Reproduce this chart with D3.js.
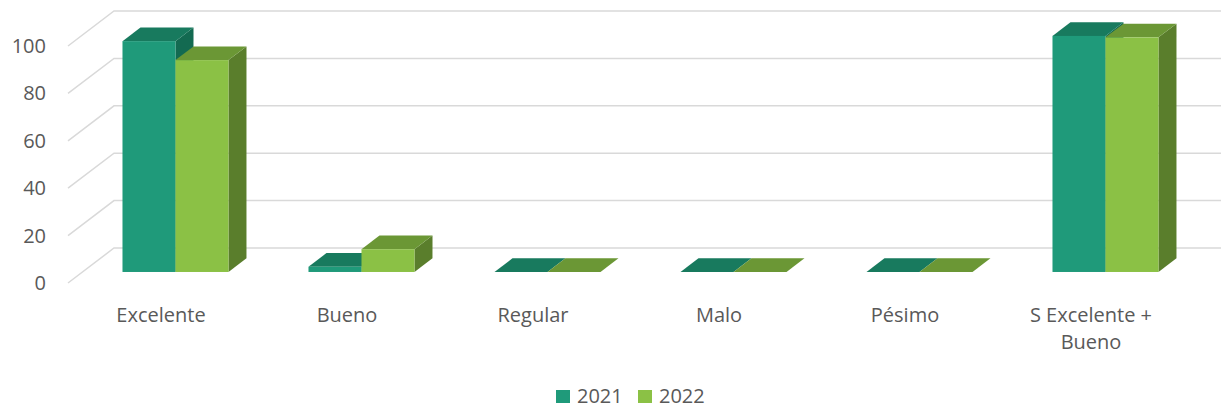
<!DOCTYPE html>
<html>
<head>
<meta charset="utf-8">
<script src="https://cdn.jsdelivr.net/npm/d3@7"></script>
<style>
  html, body { margin: 0; padding: 0; background: #fff; }
  svg { display: block; }
  text { font-family: "Open Sans", sans-serif; fill: #595959; }
</style>
</head>
<body>
<div id="chart"></div>
<script>
// Survey results per rating, two years
const categories = ["Excelente", "Bueno", "Regular", "Malo", "Pésimo", "S Excelente + Bueno"];
const series = ["2021", "2022"];
const values2021 = [97.4, 2.2, 0, 0, 0, 99.6];
const values2022 = [89.4, 9.6, 0, 0, 0, 99.0];
const yTicks = [0, 20, 40, 60, 80, 100];

const W = 1221, H = 409;

// Oblique 3D frame: floor front edge, total depth of the floor, bar depth slot
const floorY = 283;
const plotLeft = 68, plotRight = 1184;
const depthX = 46, depthY = 35;
const barZ0 = 0.315, barZ1 = 0.706;
const groupWidth = 106;

const colors = {
  "2021": { front: "#1f9a7a", top: "#187a5e", side: "#136a51" },
  "2022": { front: "#8bc145", top: "#6b9735", side: "#5a7e2c" }
};

const svg = d3.select("#chart").append("svg")
  .attr("width", W).attr("height", H);

const x0 = d3.scaleBand().domain(categories).range([plotLeft, plotRight]);
const x1 = d3.scaleBand().domain(series).range([0, groupWidth]);
const h = d3.scaleLinear().domain([0, 100]).range([0, 237]);

// project (x on the front plane, value, depth fraction) to screen
function P(x, v, z) {
  return [x + z * depthX, floorY - h(v) - z * depthY];
}
const poly = pts => "M" + pts.map(p => p.join(",")).join("L") + "Z";

// Gridlines: diagonal along the side, then across the back wall
const grid = svg.append("g");
yTicks.forEach(t => {
  const a = P(plotLeft, t, 0), b = P(plotLeft, t, 1);
  grid.append("path")
    .attr("d", `M${a[0]},${a[1]}L${b[0]},${b[1]}L${W},${b[1]}`)
    .attr("fill", "none").attr("stroke", "#d9d9d9").attr("stroke-width", 1.5);
});

// Value axis labels
svg.append("g").selectAll("text").data(yTicks).join("text")
  .attr("x", 46).attr("y", d => P(plotLeft, d, 0)[1] + 7)
  .attr("text-anchor", "end").attr("font-size", 20)
  .text(d => d);

// Bars
const data = series.map((s, si) => ({ s, vals: si === 0 ? values2021 : values2022 }));
const barsG = svg.append("g");
categories.forEach((c, ci) => {
  data.forEach(({ s, vals }) => {
    const v = vals[ci];
    const xl = x0(c) + (x0.bandwidth() - groupWidth) / 2 + x1(s) + barZ0 * depthX;
    const xr = xl + x1.bandwidth();
    const dz = barZ1 - barZ0;
    const yb = floorY - barZ0 * depthY;
    const yt = yb - h(v);
    const dx = dz * depthX, dy = dz * depthY;
    const col = colors[s];
    // right side
    barsG.append("path")
      .attr("d", poly([[xr, yt], [xr + dx, yt - dy], [xr + dx, yb - dy], [xr, yb]]))
      .attr("fill", col.side);
    // top
    barsG.append("path")
      .attr("d", poly([[xl, yt], [xr, yt], [xr + dx, yt - dy], [xl + dx, yt - dy]]))
      .attr("fill", col.top);
    // front
    barsG.append("rect")
      .attr("x", xl).attr("y", yt).attr("width", xr - xl).attr("height", Math.max(h(v), 0))
      .attr("fill", col.front);
  });
});

// Category labels along the floor front edge
const catG = svg.append("g");
categories.forEach(c => {
  const cx = x0(c) + x0.bandwidth() / 2;
  const lines = c === "S Excelente + Bueno" ? ["S Excelente +", "Bueno"] : [c];
  const t = catG.append("text").attr("text-anchor", "middle").attr("font-size", 20);
  lines.forEach((ln, i) => {
    t.append("tspan").attr("x", cx).attr("y", 322 + i * 27).text(ln);
  });
});

// Legend
const legend = svg.append("g");
const legendX = [556, 638];
series.forEach((s, i) => {
  legend.append("rect").attr("x", legendX[i]).attr("y", 390)
    .attr("width", 14).attr("height", 13).attr("fill", colors[s].front);
  legend.append("text").attr("x", legendX[i] + 21).attr("y", 403)
    .attr("font-size", 20).text(s);
});
</script>
</body>
</html>
